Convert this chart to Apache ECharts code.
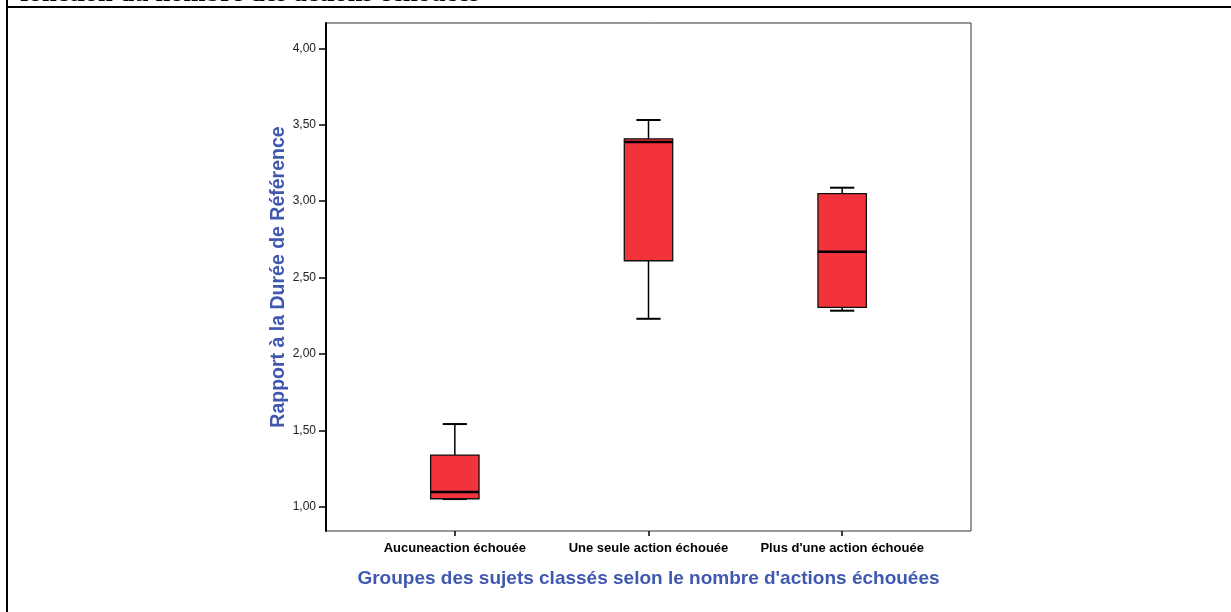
<!DOCTYPE html>
<html>
<head>
<meta charset="utf-8">
<script src="https://cdn.jsdelivr.net/npm/echarts@6/dist/echarts.min.js"></script>
<style>
  html, body { margin: 0; padding: 0; background: #fff; }
  #chart { width: 1231px; height: 612px; }
</style>
</head>
<body>
<div id="chart"></div>
<script>
// groups and box statistics
const categories = ['Aucuneaction échouée', 'Une seule action échouée', "Plus d'une action échouée"];
const lowWhisker = [1.05, 2.23, 2.283];
const q1 = [1.052, 2.61, 2.305];
const median = [1.096, 3.387, 2.669];
const q3 = [1.338, 3.408, 3.049];
const highWhisker = [1.541, 3.531, 3.088];
const yTicks = [1.0, 1.5, 2.0, 2.5, 3.0, 3.5, 4.0];

const yMin = 0.841, yMax = 4.166;
const blue = '#4058B0';

const boxData = categories.map((c, i) => [i, lowWhisker[i], q1[i], median[i], q3[i], highWhisker[i]]);

const chart = echarts.init(document.getElementById('chart'));

function renderBox(params, api) {
  const x = api.value(0);
  const pLow = api.coord([x, api.value(1)]);
  const pQ1 = api.coord([x, api.value(2)]);
  const pMed = api.coord([x, api.value(3)]);
  const pQ3 = api.coord([x, api.value(4)]);
  const pHigh = api.coord([x, api.value(5)]);
  const bw = api.size([1, 0])[0] * 0.25;
  const cx = pMed[0];
  const line = (x1, y1, x2, y2, w) => ({
    type: 'line',
    shape: { x1, y1, x2, y2 },
    style: { stroke: '#000', lineWidth: w || 1.5 }
  });
  return {
    type: 'group',
    children: [
      line(cx, pHigh[1], cx, pQ3[1]),
      line(cx, pQ1[1], cx, pLow[1]),
      line(cx - bw / 4, pHigh[1], cx + bw / 4, pHigh[1], 2),
      line(cx - bw / 4, pLow[1], cx + bw / 4, pLow[1], 2),
      {
        type: 'rect',
        shape: { x: cx - bw / 2, y: pQ3[1], width: bw, height: pQ1[1] - pQ3[1] },
        style: { fill: '#F2333B', stroke: '#111', lineWidth: 1.3 }
      },
      line(cx - bw / 2, pMed[1], cx + bw / 2, pMed[1], 2.5)
    ]
  };
}

const option = {
  backgroundColor: '#fff',
  animation: false,
  graphic: [
    {
      type: 'text', x: 20, y: 8,
      style: {
        text: 'fonction du nombre des actions échouées', font: 'bold 26.5px "Liberation Serif"',
        fill: '#000', verticalAlign: 'bottom'
      }
    },
    { type: 'rect', shape: { x: 6, y: 0, width: 2, height: 612 }, style: { fill: '#000' } },
    { type: 'rect', shape: { x: 6, y: 6, width: 1225, height: 2 }, style: { fill: '#000' } }
  ],
  grid: [
    { left: 326, top: 23, width: 645, height: 508, show: true, borderColor: '#333', borderWidth: 1, backgroundColor: '#fff' },
    { left: 358, top: 23, width: 581, height: 508 }
  ],
  xAxis: [
    { gridIndex: 0, type: 'value', show: false, min: 0, max: 1 },
    {
      gridIndex: 1, type: 'category', data: categories,
      axisLine: { show: false },
      axisTick: { show: true, alignWithLabel: true, length: 5, lineStyle: { color: '#000', width: 1.5 } },
      axisLabel: { color: '#000', fontFamily: 'Arial', fontWeight: 'bold', fontSize: 13, margin: 11, interval: 0, hideOverlap: false },
      name: 'Groupes des sujets classés selon le nombre d\'actions échouées',
      nameLocation: 'middle', nameGap: 38,
      nameTextStyle: { color: blue, fontFamily: 'Arial', fontWeight: 'bold', fontSize: 19 }
    }
  ],
  yAxis: [
    {
      gridIndex: 0, type: 'value', min: yMin, max: yMax,
      axisLine: { show: true, lineStyle: { color: '#000', width: 2 } },
      axisTick: { show: true, length: 7, customValues: yTicks, lineStyle: { color: '#000', width: 1.5 } },
      axisLabel: {
        customValues: yTicks, color: '#222', fontFamily: 'Arial', fontSize: 12, margin: 10,
        formatter: v => v.toFixed(2).replace('.', ',')
      },
      splitLine: { show: false },
      name: 'Rapport à la Durée de Référence',
      nameLocation: 'middle', nameGap: 37, nameMoveOverlap: false,
      nameTextStyle: { color: blue, fontFamily: 'Arial', fontWeight: 'bold', fontSize: 19.5 }
    },
    { gridIndex: 1, type: 'value', min: yMin, max: yMax, show: false }
  ],
  series: [
    {
      type: 'custom',
      xAxisIndex: 1, yAxisIndex: 1,
      renderItem: renderBox,
      encode: { x: 0, y: [1, 2, 3, 4, 5] },
      data: boxData
    }
  ]
};

chart.setOption(option);
</script>
</body>
</html>
